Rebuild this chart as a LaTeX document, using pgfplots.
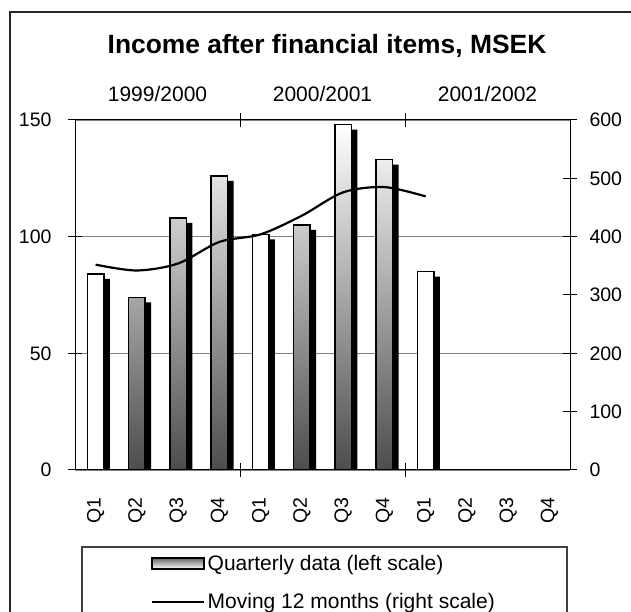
\documentclass[border=0pt]{standalone}
\usepackage{pgfplots}
\usepackage{pgfplotstable}
\pgfplotsset{compat=1.18}
\usepackage{fontspec}
\setmainfont{Liberation Sans}

\pgfplotstableread{
x y
2 74
3 108
4 126
6 105
7 148
8 133
}\gradbars
\pgfplotstableread{
x y
1 84
5 101
9 85
}\whitebars
\pgfplotstableread{
x y
1 352
2 342
3 354
4 391
5 404
6 436
7 476
8 485
9 469
}\moving

\begin{document}
\begin{tikzpicture}[x=1pt,y=1pt]
\path[use as bounding box] (0,0) rectangle (631,612);
\draw[line width=1.5pt, black!85] (10,-20) -- (10,600) -- (660,600);
\draw[line width=1.2pt, black!75] (82,-20) -- (82,65) -- (567,65) -- (567,-20);
\node[font=\bfseries\fontsize{26.4}{30}\selectfont] at (327,566) {Income after financial items, MSEK};

\pgfplotsset{
  every tick label/.append style={font=\fontsize{19.5}{23}\selectfont},
  /pgf/number format/assume math mode=true,
}

\begin{axis}[
  at={(75pt,142pt)}, anchor=south west,
  scale only axis, width=495pt, height=350pt,
  xmin=0.5, xmax=12.5, ymin=0, ymax=150,
  axis line style={black, line width=1pt},
  ytick={0,50,100,150}, ytick pos=left,
  yticklabel shift=13pt,
  ymajorgrids, grid style={black!50, line width=0.9pt},
  tick align=center, major tick length=14pt,
  tick style={black, line width=1pt},
  xtick={1,...,12},
  xticklabels={Q1,Q2,Q3,Q4,Q1,Q2,Q3,Q4,Q1,Q2,Q3,Q4},
  x tick style={draw=none},
  xticklabel style={rotate=90, anchor=east},
  xticklabel shift=17pt,
  clip=true,
]
\addplot[ybar, bar width=16.5pt, bar shift=6pt, fill=black, draw=none, yshift=-5pt] table[x=x,y=y] {\gradbars};
\addplot[ybar, bar width=16.5pt, bar shift=6pt, fill=black, draw=none, yshift=-5pt] table[x=x,y=y] {\whitebars};
\addplot[ybar, bar width=16.5pt, bar shift=0pt, draw=black, line width=1.5pt, top color=white, bottom color=black!70] table[x=x,y=y] {\gradbars};
\addplot[ybar, bar width=16.5pt, bar shift=0pt, draw=black, line width=1.5pt, fill=white] table[x=x,y=y] {\whitebars};
\end{axis}

\begin{axis}[
  at={(75pt,142pt)}, anchor=south west,
  scale only axis, width=495pt, height=350pt,
  xmin=0.5, xmax=12.5, ymin=0, ymax=600,
  axis line style={black, line width=1pt},
  ytick={0,100,...,600}, ytick pos=right, yticklabel pos=right,
  yticklabel shift=9pt,
  tick align=center, major tick length=14pt,
  tick style={black, line width=1pt},
  xtick={4.5,8.5}, xticklabels={,},
  xticklabel pos=upper,
  xticklabel shift=8pt,
  extra x ticks={2.5,6.5,10.5},
  extra x tick labels={1999/2000,2000/2001,2001/2002},
  extra x tick style={tick style={draw=none}, xticklabel pos=upper,
    xticklabel style={font=\fontsize{21}{25}\selectfont}},
  legend style={at={(axis description cs:0.1535,-0.237)}, anchor=north west,
    draw=none, fill=none, inner sep=0pt, row sep=16pt,
    font=\fontsize{21}{25}\selectfont,
    nodes={inner sep=2.5pt}},
  legend cell align=left,
]
\addlegendimage{legend image code/.code={\draw[draw=black, line width=1.5pt, top color=black!60, bottom color=white] (0pt,-5pt) rectangle (52pt,6pt);}}
\addlegendentry{Quarterly data (left scale)}
\addplot[black, line width=2.2pt, smooth, legend image code/.code={\draw[black, line width=2pt] (0pt,0pt) -- (52pt,0pt);}] table[x=x,y=y] {\moving};
\addlegendentry{Moving 12 months (right scale)}
\end{axis}
\end{tikzpicture}
\end{document}
